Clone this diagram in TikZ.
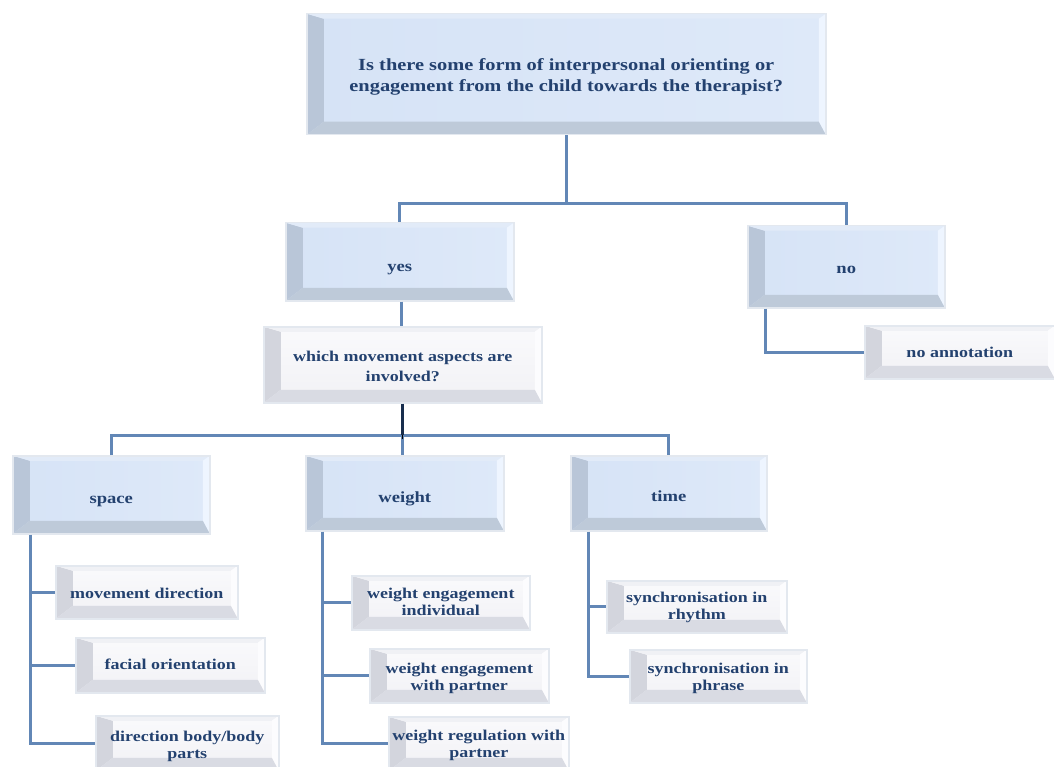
\documentclass[tikz,border=0pt]{standalone}
\usepackage{fontspec}
\setmainfont{Liberation Serif}[FakeStretch=1.2]
\definecolor{txt}{HTML}{23416F}
\definecolor{conn}{HTML}{6287B6}
\definecolor{frame}{HTML}{E3E8EF}
\definecolor{bfill}{HTML}{D6E3F6}
\definecolor{bfillr}{HTML}{DEE9F9}
\definecolor{bleft}{HTML}{B9C6D8}
\definecolor{btop}{HTML}{E2EBF8}
\definecolor{bright}{HTML}{EEF5FF}
\definecolor{bbottom}{HTML}{BECAD9}
\definecolor{wfill}{HTML}{FAFAFC}
\definecolor{wfillb}{HTML}{F1F1F5}
\definecolor{wleft}{HTML}{D3D5DD}
\definecolor{wtop}{HTML}{F0F1F5}
\definecolor{wright}{HTML}{FCFCFE}
\definecolor{wbottom}{HTML}{D9DBE3}
% centred lines of text, lowered without changing the box size
\newcommand\lowered[2]{\raisebox{-#1}[\height][\depth]{\begin{tabular}{@{}c@{}}#2\end{tabular}}}
\tikzset{
  % bevelled box: left/top/right/bottom faces drawn inside the node
  bevel/.style n args={5}{
    draw=frame, line width=1.5pt,
    path picture={
      \coordinate (bSW) at (path picture bounding box.south west);
      \coordinate (bNE) at (path picture bounding box.north east);
      \coordinate (bNW) at (path picture bounding box.north west);
      \coordinate (bSE) at (path picture bounding box.south east);
      \coordinate (iSW) at ([xshift=17pt,yshift=13pt]bSW);
      \coordinate (iNW) at ([xshift=17pt,yshift=-5pt]bNW);
      \coordinate (iNE) at ([xshift=-7pt,yshift=-5pt]bNE);
      \coordinate (iSE) at ([xshift=-7pt,yshift=13pt]bSE);
      \fill[#2] (bSW) -- (bNW) -- (iNW) -- (iSW) -- cycle;
      \fill[#3] (bNW) -- (bNE) -- (iNE) -- (iNW) -- cycle;
      \fill[#4] (bNE) -- (bSE) -- (iSE) -- (iNE) -- cycle;
      \fill[#5] (bSW) -- (bSE) -- (iSE) -- (iSW) -- cycle;
    }},
  bluebox/.style={bevel={bfill}{bleft}{btop}{bright}{bbottom},
    left color=bfill, right color=bfillr,
    anchor=north west, inner sep=0pt, text=txt,
    font=\fontsize{15.5}{21}\selectfont\bfseries},
  whitebox/.style={bevel={wfill}{wleft}{wtop}{wright}{wbottom},
    top color=wfill, bottom color=wfillb,
    anchor=north west, inner sep=0pt, text=txt,
    font=\fontsize{15}{17}\selectfont\bfseries},
  conn/.style={draw=conn, line width=3pt},
}
\begin{document}
\begin{tikzpicture}[x=1pt, y=-1pt]
\path[use as bounding box, fill=white] (0,0) rectangle (1054,767);

% question and answers
\node[bluebox, minimum width=519pt, minimum height=121pt, font=\fontsize{17}{21}\selectfont\bfseries] (top) at (306,13)
  {\lowered{3pt}{Is there some form of interpersonal orienting or\\engagement from the child towards the therapist?}};
\node[bluebox, minimum width=228pt, minimum height=78pt] (yes) at (285,222) {\lowered{6pt}{yes}};
\node[bluebox, minimum width=197pt, minimum height=82pt] (no) at (747,225) {\lowered{3pt}{no}};
\node[whitebox, minimum width=278pt, minimum height=76pt, font=\fontsize{15}{20}\selectfont\bfseries] (which) at (263,326)
  {\lowered{3pt}{which movement aspects are\\involved?}};
\node[whitebox, minimum width=190pt, minimum height=53pt] (noann) at (864,325) {\lowered{2pt}{no annotation}};

% movement aspects
\node[bluebox, minimum width=197pt, minimum height=78pt] (space) at (12,455) {\lowered{5pt}{space}};
\node[bluebox, minimum width=198pt, minimum height=75pt] (weight) at (305,455) {\lowered{5pt}{weight}};
\node[bluebox, minimum width=196pt, minimum height=75pt] (time) at (570,455) {\lowered{4pt}{time}};

% space
\node[whitebox, minimum width=182pt, minimum height=53pt] (md) at (55,565) {\lowered{3pt}{movement direction}};
\node[whitebox, minimum width=189pt, minimum height=55pt] (fo) at (75,637) {\lowered{1pt}{facial orientation}};
\node[whitebox, minimum width=183pt, minimum height=55pt] (db) at (95,715) {\lowered{3pt}{direction body/body\\parts}};

% weight
\node[whitebox, minimum width=178pt, minimum height=54pt] (wi) at (351,575) {\lowered{1pt}{weight engagement\\individual}};
\node[whitebox, minimum width=179pt, minimum height=54pt] (wp) at (369,648) {\lowered{3pt}{weight engagement\\with partner}};
\node[whitebox, minimum width=180pt, minimum height=54pt] (wr) at (388,716) {\lowered{2pt}{weight regulation with\\partner}};

% time
\node[whitebox, minimum width=180pt, minimum height=52pt] (sr) at (606,580) {\lowered{1pt}{synchronisation in\\rhythm}};
\node[whitebox, minimum width=177pt, minimum height=53pt] (sp) at (629,649) {\lowered{2pt}{synchronisation in\\phrase}};

% connectors
\coordinate (split1) at (top.south |- 0,204);
\draw[conn] (top.south) -- (split1) -| (yes.north);
\draw[conn] (split1) -| (no.north);
\draw[conn] (yes.south -| 401,0) -- (which.north -| 401,0);
\coordinate (split2) at (which.south |- 0,435);
\draw[conn] (space.north) |- (split2) -| (time.north);
\draw[conn] (split2) -- (split2 |- weight.north);
\draw[draw=txt!70!black, line width=3pt] (which.south) -- (split2);
\draw[black, line width=1pt] (split2) -- ++(0,4);
\draw[conn] ([xshift=18pt]no.south west) |- (noann.west);

\draw[conn] ([xshift=18pt]space.south west) |- (db.west);
\draw[conn] ([xshift=18pt]space.south west |- md.west) -- (md.west);
\draw[conn] ([xshift=18pt]space.south west |- fo.west) -- (fo.west);

\draw[conn] ([xshift=17pt]weight.south west) |- (wr.west);
\draw[conn] ([xshift=17pt]weight.south west |- wi.west) -- (wi.west);
\draw[conn] ([xshift=17pt]weight.south west |- wp.west) -- (wp.west);

\draw[conn] ([xshift=18pt]time.south west) |- (sp.west);
\draw[conn] ([xshift=18pt]time.south west |- sr.west) -- (sr.west);
\end{tikzpicture}
\end{document}
